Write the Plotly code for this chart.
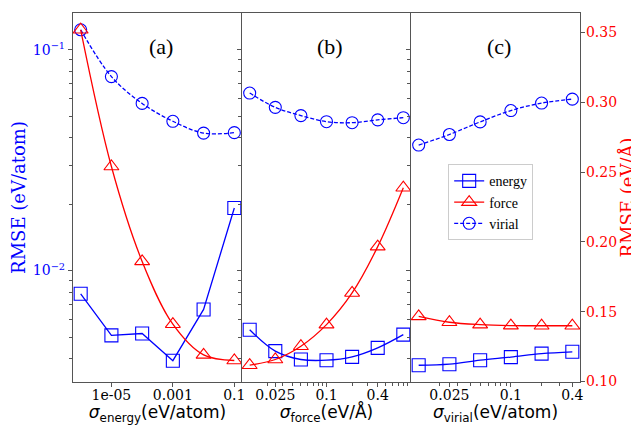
import numpy as np
import plotly.graph_objects as go

# sigma values (x) for the three panels
sigma_energy = [1e-6, 1e-5, 1e-4, 1e-3, 1e-2, 1e-1]
sigma_force = [0.0125, 0.025, 0.05, 0.1, 0.2, 0.4, 0.8]
sigma_virial = [0.0125, 0.025, 0.05, 0.1, 0.2, 0.4]

# panel (a): scan of sigma_energy
a_energy = [0.00785, 0.00509, 0.00519, 0.00391, 0.00667, 0.0192]
a_force = [0.352, 0.254, 0.186, 0.141, 0.119, 0.115]
a_virial = [0.123, 0.0755, 0.0571, 0.0474, 0.0419, 0.0421]

# panel (b): scan of sigma_force
b_energy = [0.00540, 0.00432, 0.00396, 0.00393, 0.00407, 0.00447, 0.00513]
b_force = [0.1116, 0.1157, 0.1252, 0.1407, 0.1634, 0.1966, 0.2388]
b_virial = [0.0636, 0.0548, 0.0503, 0.0472, 0.0467, 0.0481, 0.0492]

# panel (c): scan of sigma_virial
c_energy = [0.00373, 0.00377, 0.00393, 0.00406, 0.00421, 0.00429]
c_force = [0.1466, 0.1424, 0.1407, 0.1400, 0.1399, 0.1399]
c_virial = [0.0370, 0.0413, 0.0471, 0.0530, 0.0573, 0.0597]

panel_labels = ["(a)", "(b)", "(c)"]
x_titles = ["<i>σ</i><sub>energy</sub>(eV/atom)",
            "<i>σ</i><sub>force</sub>(eV/Å)",
            "<i>σ</i><sub>virial</sub>(eV/atom)"]
xtick_vals = [[1e-5, 1e-3, 1e-1], [0.025, 0.1, 0.4], [0.025, 0.1, 0.4]]
xtick_text = [["1e-05", "0.001", "0.1"], ["0.025", "0.1", "0.4"], ["0.025", "0.1", "0.4"]]
ytick_left_vals = [1e-2, 1e-1]
ytick_left_text = ["10<sup>−2</sup>", "10<sup>−1</sup>"]
ytick_right_vals = [0.10, 0.15, 0.20, 0.25, 0.30, 0.35]

BLUE = "blue"
RED = "red"
GREY = "#555555"
SERIF = "DejaVu Serif"
TIMES = "Liberation Serif"


def log_range(vals, pad=0.05):
    lv = np.log10(vals)
    span = lv.max() - lv.min()
    return [lv.min() - pad * span, lv.max() + pad * span]


def lin_range(vals, pad=0.05):
    v = np.asarray(vals)
    span = v.max() - v.min()
    return [v.min() - pad * span, v.max() + pad * span]


fig = go.Figure()

panels = [
    (sigma_energy, a_energy, a_force, a_virial, "x", "y", "y5"),
    (sigma_force, b_energy, b_force, b_virial, "x2", "y3", "y6"),
    (sigma_virial, c_energy, c_force, c_virial, "x3", "y4", "y2"),
]

for i, (xs, en, fo, vi, xa, ya, yf) in enumerate(panels):
    show = i == 0
    fig.add_trace(go.Scatter(
        x=xs, y=en, xaxis=xa, yaxis=ya, name="energy", legendrank=1,
        mode="lines+markers", showlegend=show,
        line=dict(color=BLUE, width=1.3, shape="linear" if i == 0 else "spline", smoothing=1.0),
        marker=dict(symbol="square-open", size=13, color=BLUE, line=dict(width=1.1, color=BLUE))))
    fig.add_trace(go.Scatter(
        x=xs, y=fo, xaxis=xa, yaxis=yf, name="force", legendrank=2,
        mode="lines+markers", showlegend=show,
        line=dict(color=RED, width=1.3, shape="spline", smoothing=1.0),
        marker=dict(symbol="triangle-up-open", size=13, color=RED, line=dict(width=1.1, color=RED))))
    fig.add_trace(go.Scatter(
        x=xs, y=vi, xaxis=xa, yaxis=ya, name="virial", legendrank=3,
        mode="lines+markers", showlegend=show,
        line=dict(color=BLUE, width=1.3, dash="4px,2px", shape="spline", smoothing=1.0),
        marker=dict(symbol="circle-open", size=12, color=BLUE, line=dict(width=1.1, color=BLUE))))

all_left = a_energy + a_virial + b_energy + b_virial + c_energy + c_virial
all_right = a_force + b_force + c_force
yl_range = log_range(all_left)
yr_range = lin_range(all_right)

minor_left = [k * 10.0 ** e for e in (-3, -2) for k in range(2, 10)]
minor_x = [k * 10.0 ** e for e in (-2, -1) for k in range(1, 10)]

axis_common = dict(showline=True, linecolor=GREY, linewidth=1.2, ticks="outside",
                   tickcolor=GREY, ticklen=4, tickwidth=1, showgrid=False, zeroline=False,
                   automargin=True)

domains = [[0, 1 / 3], [1 / 3, 2 / 3], [2 / 3, 1]]
xs_list = [sigma_energy, sigma_force, sigma_virial]
yanchors = ["y", "y3", "y4"]
for i in range(3):
    key = "xaxis" if i == 0 else f"xaxis{i + 1}"
    ax = dict(axis_common, type="log", domain=domains[i], anchor=yanchors[i],
              range=log_range(xs_list[i]), mirror=True,
              tickvals=xtick_vals[i], ticktext=xtick_text[i], ticklabelstandoff=-4,
              tickfont=dict(family=SERIF, size=14, color="black"),
              title=dict(text=x_titles[i], font=dict(family="DejaVu Sans", size=17, color="black"),
                         standoff=0))
    if i > 0:
        ax["minor"] = dict(tickvals=minor_x, ticks="outside", ticklen=3, tickcolor=GREY)
    fig.layout[key] = ax

fig.update_layout(
    yaxis=dict(axis_common, type="log", anchor="x", range=yl_range,
               tickvals=ytick_left_vals, ticktext=ytick_left_text,
               tickfont=dict(family=SERIF, size=14, color=BLUE),
               minor=dict(tickvals=minor_left, ticks="outside", ticklen=3, tickcolor=GREY),
               title=dict(text="RMSE (eV/atom)", font=dict(family=SERIF, size=18, color=BLUE),
                          standoff=5)),
    yaxis3=dict(axis_common, type="log", anchor="x2", matches="y", range=yl_range,
                tickvals=ytick_left_vals, showticklabels=False,
                minor=dict(tickvals=minor_left, ticks="outside", ticklen=3, tickcolor=GREY)),
    yaxis4=dict(axis_common, type="log", anchor="x3", matches="y", range=yl_range,
                tickvals=ytick_left_vals, showticklabels=False,
                minor=dict(tickvals=minor_left, ticks="outside", ticklen=3, tickcolor=GREY)),
    yaxis2=dict(axis_common, anchor="x3", overlaying="y4", side="right", range=yr_range,
                tickvals=ytick_right_vals, tickformat=".2f", ticklabelstandoff=-2,
                tickfont=dict(family=SERIF, size=14, color=RED),
                title=dict(text="RMSE (eV/Å)", font=dict(family=SERIF, size=18, color=RED),
                           standoff=0)),
    yaxis5=dict(anchor="x", overlaying="y", matches="y2", range=yr_range, visible=False),
    yaxis6=dict(anchor="x2", overlaying="y3", matches="y2", range=yr_range, visible=False),
)

for i, lab in enumerate(panel_labels):
    xref = "x domain" if i == 0 else f"x{i + 1} domain"
    fig.add_annotation(text=lab, xref=xref, yref="paper", x=0.52, y=0.91,
                       xanchor="center", yanchor="middle",
                       showarrow=False, font=dict(family=TIMES, size=22, color="black"))

# the page body adds an 8px offset, so the figure is 8px smaller than the window
fig.update_layout(
    width=631, height=417,
    margin=dict(l=65, r=59, t=5, b=43, autoexpand=False),
    plot_bgcolor="white", paper_bgcolor="white",
    showlegend=True,
    legend=dict(x=0.74, y=0.59, xanchor="left", yanchor="top",
                bgcolor="rgba(255,255,255,0.85)", bordercolor="#cccccc", borderwidth=1,
                font=dict(family=TIMES, size=14, color="black"),
                itemwidth=30, tracegroupgap=0),
)

fig.write_html("out.html")
